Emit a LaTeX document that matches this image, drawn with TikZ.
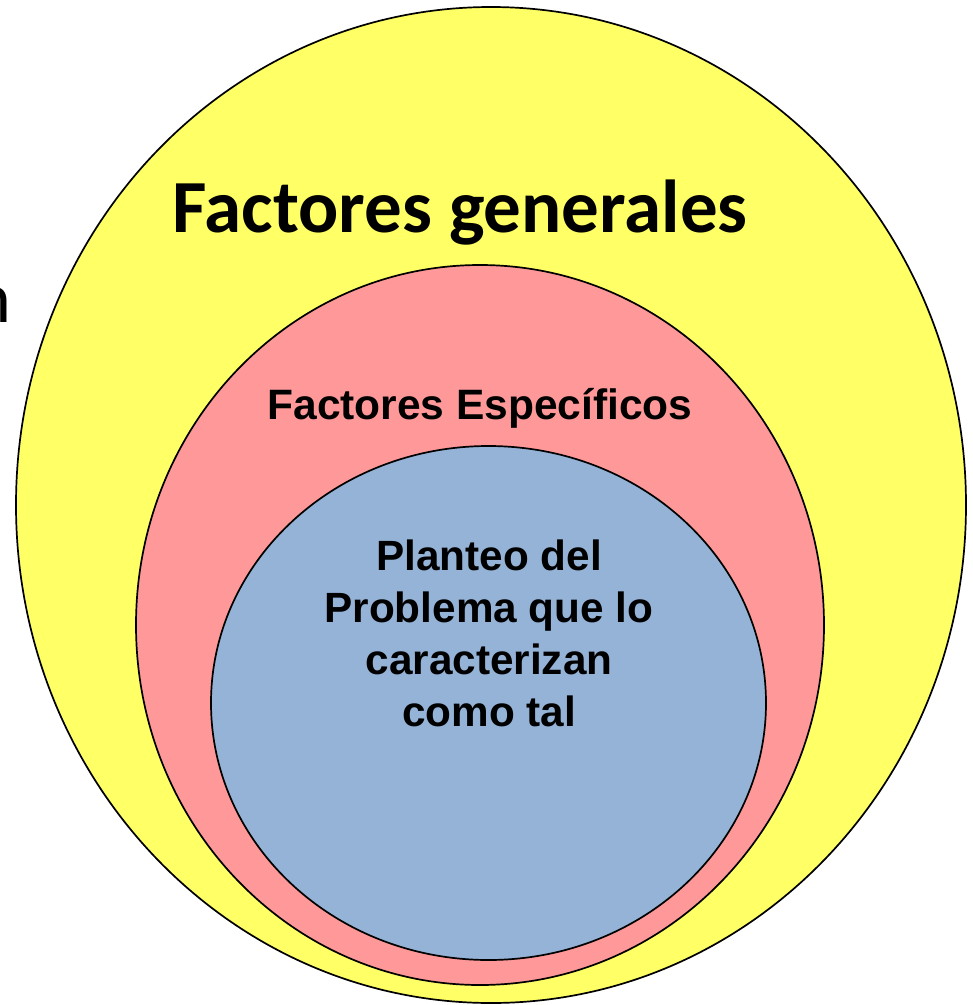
\documentclass[tikz,border=0pt]{standalone}
\usepackage{fontspec}
\setmainfont{Liberation Sans}
\newfontfamily\calibrifont{Carlito}
\usetikzlibrary{shapes.geometric}
\definecolor{ylw}{HTML}{FFFF66}
\definecolor{pnk}{HTML}{FF9999}
\definecolor{blu}{HTML}{95B3D7}
\tikzset{
  ring/.style={ellipse, draw=black, line width=1.7pt, inner sep=0pt},
  biglabel/.style={font=\calibrifont\bfseries\fontsize{75}{88}\selectfont, inner sep=0pt},
  midlabel/.style={font=\bfseries\fontsize{42.5}{50}\selectfont, inner sep=0pt},
  innerlabel/.style={font=\bfseries\fontsize{42.3}{52}\selectfont, align=center, inner sep=0pt},
}
\begin{document}
\begin{tikzpicture}[x=1pt,y=-1pt]
\useasboundingbox[fill=white] (0,0) rectangle (973,1005);
\node[ring, fill=ylw, minimum width=950pt, minimum height=996pt] (outer) at (491,505) {};
\node[ring, fill=pnk, minimum width=688pt, minimum height=720pt] (mid) at (480,625) {};
\node[ring, fill=blu, minimum width=555pt, minimum height=514pt] (inner) at (488.5,703) {};
\node[biglabel] (gen) at (460,213) {Factores generales};
\node[midlabel] (esp) at (480,408) {Factores Específicos};
\node[innerlabel, anchor=north] (plan) at (489,540) {Planteo del\\Problema que lo\\caracterizan\\como tal};
\node[font=\calibrifont\fontsize{72}{84}\selectfont, inner sep=0pt, anchor=base east] (frag) at (12,322) {n};
\end{tikzpicture}
\end{document}
